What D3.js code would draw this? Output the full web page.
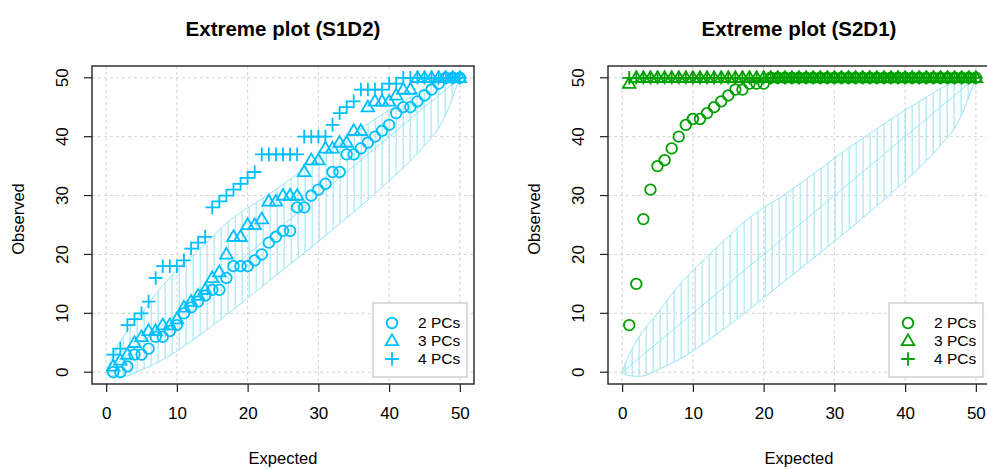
<!DOCTYPE html>
<html>
<head>
<meta charset="utf-8">
<script src="https://cdn.jsdelivr.net/npm/d3@7/dist/d3.min.js"></script>
<style>
  body { margin: 0; background: #fff; }
  text { font-family: "Liberation Sans", Arial, sans-serif; fill: #000; }
</style>
</head>
<body>
<div id="viz"></div>
<script>
// expected number of extremes (x) for every object count
var expected = [1,2,3,4,5,6,7,8,9,10,11,12,13,14,15,16,17,18,19,20,21,22,23,24,25,
                26,27,28,29,30,31,32,33,34,35,36,37,38,39,40,41,42,43,44,45,46,47,48,49,50];

// S1D2, observed extremes
var s1d2_pc2 = [0,0,1,3,3,4,6,6,7,8, 10,11,12,13,14,14,16,18,18,18, 19,20,22,23,24,24,28,28,30,31,
                32,34,34,37,37,38,39,40,41,42, 44,45,45,46,47,48,49,50,50,50];
var s1d2_pc3 = [1,2,3,5,6,7,7,8,8,9, 11,12,13,14,16,17,20,23,23,25, 25,26,29,29,30,30,30,34,36,36,
                38,38,39,39,41,41,45,46,46,46, 47,48,48,50,50,50,50,50,50,50];
var s1d2_pc4 = [3,4,8,9,10,12,16,18,18,18, 19,21,22,23,28,29,30,31,32,33, 34,37,37,37,37,37,37,40,40,40,
                40,42,44,45,46,48,48,48,48,49, 49,50,50,50,50,50,50,50,50,50];

// S2D1, observed extremes
var s2d1_pc2 = [8,15,26,31,35,36,38,40,42,43, 43,44,45,46,47,48,48,49,49,49, 50,50,50,50,50,50,50,50,50,50,
                50,50,50,50,50,50,50,50,50,50, 50,50,50,50,50,50,50,50,50,50];
var s2d1_pc3 = [49,50,50,50,50,50,50,50,50,50, 50,50,50,50,50,50,50,50,50,50, 50,50,50,50,50,50,50,50,50,50,
                50,50,50,50,50,50,50,50,50,50, 50,50,50,50,50,50,50,50,50,50];
var s2d1_pc4 = [50,50,50,50,50,50,50,50,50,50, 50,50,50,50,50,50,50,50,50,50, 50,50,50,50,50,50,50,50,50,50,
                50,50,50,50,50,50,50,50,50,50, 50,50,50,50,50,50,50,50,50,50];

// tolerance band
var bandX     = [0, 1, 2.5, 5, 7.5, 10, 12.5, 15, 17.5, 20, 22.5, 25, 27.5, 30, 32.5, 35, 37.5, 40, 42.5, 45, 47.5, 50];
var bandLower = [0, -0.6, -0.7, 0.4, 1.8, 3.6, 5.7, 7.9, 10.2, 12.6, 15, 17.4, 19.8, 22.2, 24.7, 27.2, 29.8, 32.5, 35.3, 38.5, 42.5, 50];
var bandUpper = [0, 3, 6.2, 10, 14, 17.3, 20.2, 23, 25.8, 27.9, 29.8, 31.9, 34.1, 36.3, 38.5, 40.5, 42.6, 44.5, 46.3, 48.2, 49.4, 50];
var centerLine = [[0, 0], [50, 50]];

var xTicks = [0, 10, 20, 30, 40, 50],
    yTicks = [0, 10, 20, 30, 40, 50];
var legendLabels = ["2 PCs", "3 PCs", "4 PCs"];

var panels = [
  {title: "Extreme plot (S1D2)", color: "#00bfff", left: 92, series: [s1d2_pc2, s1d2_pc3, s1d2_pc4]},
  {title: "Extreme plot (S2D1)", color: "#00a000", left: 608, series: [s2d1_pc2, s2d1_pc3, s2d1_pc4]}
];

var width = 382, height = 318, top0 = 66;
var bandColor = "#94e4f5";

var svg = d3.select('#viz').append('svg')
    .attr("width", 987)
    .attr("height", 470);

var symbols = [
  function(g) { return g.append("circle").attr("r", 5.3); },
  function(g) { return g.append("path").attr("d", "M0,-6.6L6.3,4.2L-6.3,4.2Z"); },
  function(g) { return g.append("path").attr("d", "M-6.8,0H6.8M0,-6.8V6.8"); }
];

panels.forEach(function(p, pi) {
  var x = d3.scaleLinear().domain([-2, 52]).range([0, width]);
  var y = d3.scaleLinear().domain([-2, 52]).range([height, 0]);

  var g = svg.append("g").attr("transform", "translate(" + p.left + "," + top0 + ")");

  // grid
  g.selectAll(".gx").data(xTicks).enter().append("line")
      .attr("x1", function(d) { return x(d); }).attr("x2", function(d) { return x(d); })
      .attr("y1", 0).attr("y2", height)
      .attr("stroke", "#d3d3d3").attr("stroke-dasharray", "3,3");
  g.selectAll(".gy").data(yTicks).enter().append("line")
      .attr("y1", function(d) { return y(d); }).attr("y2", function(d) { return y(d); })
      .attr("x1", 0).attr("x2", width)
      .attr("stroke", "#d3d3d3").attr("stroke-dasharray", "3,3");

  // band with vertical hatching
  var area = d3.area()
      .x(function(d, i) { return x(bandX[i]); })
      .y0(function(d, i) { return y(bandLower[i]); })
      .y1(function(d, i) { return y(bandUpper[i]); })
      .curve(d3.curveMonotoneX);
  var clipId = "band" + pi;
  g.append("clipPath").attr("id", clipId).append("path").attr("d", area(bandX));
  var hatch = d3.range(x(0) + 3, x(50), 7);
  g.append("g").attr("clip-path", "url(#" + clipId + ")")
    .selectAll("line").data(hatch).enter().append("line")
      .attr("x1", function(d) { return d; }).attr("x2", function(d) { return d; })
      .attr("y1", 0).attr("y2", height)
      .attr("stroke", bandColor).attr("stroke-width", 1);
  g.append("path").attr("d", area(bandX))
      .attr("fill", "none").attr("stroke", bandColor).attr("stroke-width", 1);
  g.append("path")
      .attr("d", d3.line().x(function(d) { return x(d[0]); }).y(function(d) { return y(d[1]); })(centerLine))
      .attr("stroke", bandColor).attr("stroke-width", 1);

  // points
  p.series.forEach(function(vals, si) {
    g.append("g").selectAll("g").data(vals).enter().append("g")
        .attr("transform", function(d, i) { return "translate(" + x(expected[i]) + "," + y(d) + ")"; })
        .each(function() {
          symbols[si](d3.select(this))
            .attr("fill", "none").attr("stroke", p.color).attr("stroke-width", 1.8);
        });
  });

  // frame
  g.append("rect").attr("width", width).attr("height", height)
      .attr("fill", "none").attr("stroke", "#222").attr("stroke-width", 1.4);

  // axes
  var xa = g.append("g").attr("transform", "translate(0," + height + ")")
      .call(d3.axisBottom(x).tickValues(xTicks).tickSize(8).tickPadding(15));
  var ya = g.append("g")
      .call(d3.axisLeft(y).tickValues(yTicks).tickSize(8).tickPadding(0));
  [xa, ya].forEach(function(a) {
    a.select(".domain").remove();
    a.selectAll("line").attr("stroke", "#222").attr("stroke-width", 1.2);
    a.selectAll("text").attr("font-size", 17).attr("font-family", "Liberation Sans, Arial, sans-serif");
  });
  ya.selectAll("text")
      .attr("x", null).attr("dy", null)
      .attr("text-anchor", "middle")
      .attr("transform", function(d) { return "translate(-24," + y(d) + ") rotate(-90)"; })
      .attr("y", 0);
  ya.selectAll(".tick").attr("transform", null);
  ya.selectAll(".tick line").attr("transform", function(d) { return "translate(0," + y(d) + ")"; });

  // titles
  g.append("text").attr("x", width / 2).attr("y", -30)
      .attr("text-anchor", "middle").attr("font-weight", "bold").attr("font-size", 20.5)
      .text(p.title);
  g.append("text").attr("x", width / 2).attr("y", height + 80)
      .attr("text-anchor", "middle").attr("font-size", 16.5)
      .text("Expected");
  g.append("text").attr("transform", "translate(" + (-68) + "," + (height / 2 - 6) + ") rotate(-90)")
      .attr("text-anchor", "middle").attr("font-size", 16.5)
      .text("Observed");

  // legend
  var lg = g.append("g").attr("transform", "translate(" + (width - 101) + "," + (height - 81) + ")");
  lg.append("rect").attr("width", 94).attr("height", 74)
      .attr("fill", "#fff").attr("stroke", "#bbb").attr("stroke-width", 1);
  legendLabels.forEach(function(lab, li) {
    var row = lg.append("g").attr("transform", "translate(19," + (20 + li * 18) + ")");
    symbols[li](row).attr("fill", "none").attr("stroke", p.color).attr("stroke-width", 1.8);
    row.append("text").attr("x", 26).attr("y", 5).attr("font-size", 15.5).text(lab);
  });
});
</script>
</body>
</html>
